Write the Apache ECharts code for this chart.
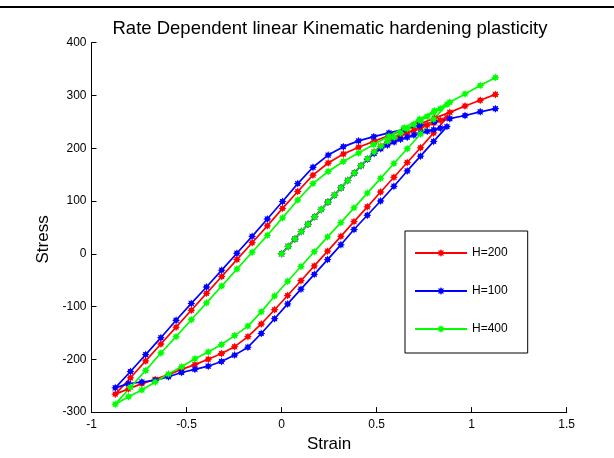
<!DOCTYPE html>
<html>
<head>
<meta charset="utf-8">
<script src="https://cdn.jsdelivr.net/npm/echarts@6/dist/echarts.min.js"></script>
<style>
html,body{margin:0;padding:0;background:#fff;}
#chart{width:614px;height:458px;}
</style>
</head>
<body>
<div id="chart"></div>
<script>
// Strain history: initial loading, unloading, reloading
const strainLoad = [0, 0.035, 0.07, 0.104, 0.139, 0.174, 0.209, 0.244, 0.278, 0.313, 0.348, 0.383, 0.418, 0.452, 0.487, 0.522, 0.557, 0.592, 0.626, 0.661, 0.696, 0.731, 0.766, 0.8, 0.835, 0.87];
const strainUnload = [0.8, 0.731, 0.661, 0.591, 0.521, 0.451, 0.381, 0.312, 0.242, 0.172, 0.102, 0.032, -0.037, -0.107, -0.177, -0.247, -0.316, -0.386, -0.456, -0.526, -0.595, -0.665, -0.735, -0.805, -0.875];
const strainReload = [-0.795, -0.715, -0.635, -0.555, -0.475, -0.395, -0.315, -0.235, -0.155, -0.075, 0.005, 0.085, 0.165, 0.245, 0.325, 0.405, 0.485, 0.565, 0.645, 0.725, 0.805, 0.885, 0.965, 1.045, 1.125];

// H=200 (red)
const stressH200Load = [0, 14, 28, 42, 56, 70, 84, 98, 111, 125, 139, 153, 167, 180, 193, 204, 212, 219, 224, 229, 234, 239, 244, 248, 253, 258];
const stressH200Unload = [229, 201, 173, 145, 117, 89, 61, 33, 5, -23, -51, -79, -106, -133, -157, -176, -189, -200, -210, -219, -229, -238, -246, -256, -266];
const stressH200Reload = [-235, -203, -171, -139, -107, -75, -43, -11, 21, 53, 86, 118, 149, 172, 189, 202, 213, 224, 235, 246, 257, 268, 280, 291, 302];

// H=100 (blue)
const stressH100Load = [0, 14, 28, 42, 56, 70, 84, 98, 111, 125, 139, 153, 167, 179, 190, 199, 206, 212, 217, 221, 225, 229, 232, 235, 238, 241];
const stressH100Unload = [213, 185, 157, 128, 100, 73, 46, 17, -11, -39, -67, -95, -123, -151, -177, -192, -204, -213, -219, -225, -233, -240, -243, -246, -254];
const stressH100Reload = [-223, -191, -159, -126, -94, -63, -31, 1, 33, 66, 99, 133, 164, 187, 203, 214, 222, 229, 236, 243, 250, 256, 262, 269, 275];

// H=400 (green)
const stressH400Load = [0, 14, 28, 42, 56, 70, 84, 98, 111, 125, 139, 153, 167, 180, 193, 204, 213, 221, 229, 237, 245, 252, 260, 268, 275, 283];
const stressH400Unload = [255, 227, 199, 171, 143, 115, 87, 59, 32, 4, -24, -52, -80, -110, -137, -155, -172, -186, -199, -214, -228, -243, -258, -271, -285];
const stressH400Reload = [-253, -221, -188, -157, -125, -93, -61, -29, 3, 35, 68, 102, 133, 156, 175, 191, 207, 223, 239, 255, 271, 287, 303, 319, 334];

const seriesNames = ['H=200', 'H=100', 'H=400'];
const seriesColors = ['#ff0000', '#0000ff', '#00ff00'];

const strainPath = strainLoad.concat(strainUnload, strainReload);
const stressSets = [
  stressH200Load.concat(stressH200Unload, stressH200Reload),
  stressH100Load.concat(stressH100Unload, stressH100Reload),
  stressH400Load.concat(stressH400Unload, stressH400Reload)
];

const FONT = "'Liberation Sans', Arial, sans-serif";
const STAR = 'path://M20,10L15.54,12.3L17.07,17.07L12.3,15.54L10,20L7.7,15.54L2.93,17.07L4.46,12.3L0,10L4.46,7.7L2.93,2.93L7.7,4.46L10,0L12.3,4.46L17.07,2.93L15.54,7.7Z';
const chart = echarts.init(document.getElementById('chart'), null, {renderer: 'canvas'});

const series = seriesNames.map((name, i) => ({
  name: name,
  type: 'line',
  data: strainPath.map((x, k) => [x, stressSets[i][k]]),
  symbol: STAR,
  symbolSize: 8,
  showSymbol: true,
  lineStyle: {color: seriesColors[i], width: 1.7},
  itemStyle: {color: seriesColors[i], borderWidth: 0},
  emphasis: {disabled: true},
  animation: false,
  clip: true
}));

chart.setOption({
  backgroundColor: '#fff',
  animation: false,
  title: {
    text: 'Rate Dependent linear Kinematic hardening plasticity',
    left: 325,
    textAlign: 'center',
    top: 14,
    textStyle: {fontFamily: FONT, fontSize: 18.5, fontWeight: 'normal', color: '#000'}
  },
  grid: {left: 91.5, right: 47.3, top: 42.7, bottom: 45, containLabel: false},
  xAxis: {
    type: 'value',
    min: -1, max: 1.5, interval: 0.5,
    name: 'Strain',
    nameLocation: 'middle',
    nameGap: 21,
    nameTextStyle: {fontFamily: FONT, fontSize: 17, color: '#000'},
    axisLine: {show: true, onZero: false, lineStyle: {color: '#000', width: 1}},
    axisTick: {show: true, inside: true, length: 5, lineStyle: {color: '#000'}},
    axisLabel: {fontFamily: FONT, fontSize: 12, color: '#000', margin: 7},
    splitLine: {show: false}
  },
  yAxis: {
    type: 'value',
    min: -300, max: 400, interval: 100,
    name: 'Stress',
    nameLocation: 'middle',
    nameGap: 33,
    nameTextStyle: {fontFamily: FONT, fontSize: 17, color: '#000', padding: [0, 24, 0, 0]},
    axisLine: {show: true, onZero: false, lineStyle: {color: '#000', width: 1}},
    axisTick: {show: true, inside: true, length: 5, lineStyle: {color: '#000'}},
    axisLabel: {fontFamily: FONT, fontSize: 12, color: '#000', margin: 5},
    splitLine: {show: false}
  },
  legend: {
    data: seriesNames,
    orient: 'vertical',
    left: 405,
    top: 231,
    padding: [16, 20, 18, 9],
    itemWidth: 52,
    itemHeight: 10,
    itemGap: 26,
    itemTextGap: 7,
    borderColor: '#000',
    borderWidth: 1,
    textStyle: {fontFamily: FONT, fontSize: 12, color: '#000'}
  },
  graphic: [
    {type: 'line', shape: {x1: 0, y1: 7, x2: 614, y2: 7}, style: {stroke: '#000', lineWidth: 2}, silent: true}
  ],
  series: series
});
</script>
</body>
</html>
